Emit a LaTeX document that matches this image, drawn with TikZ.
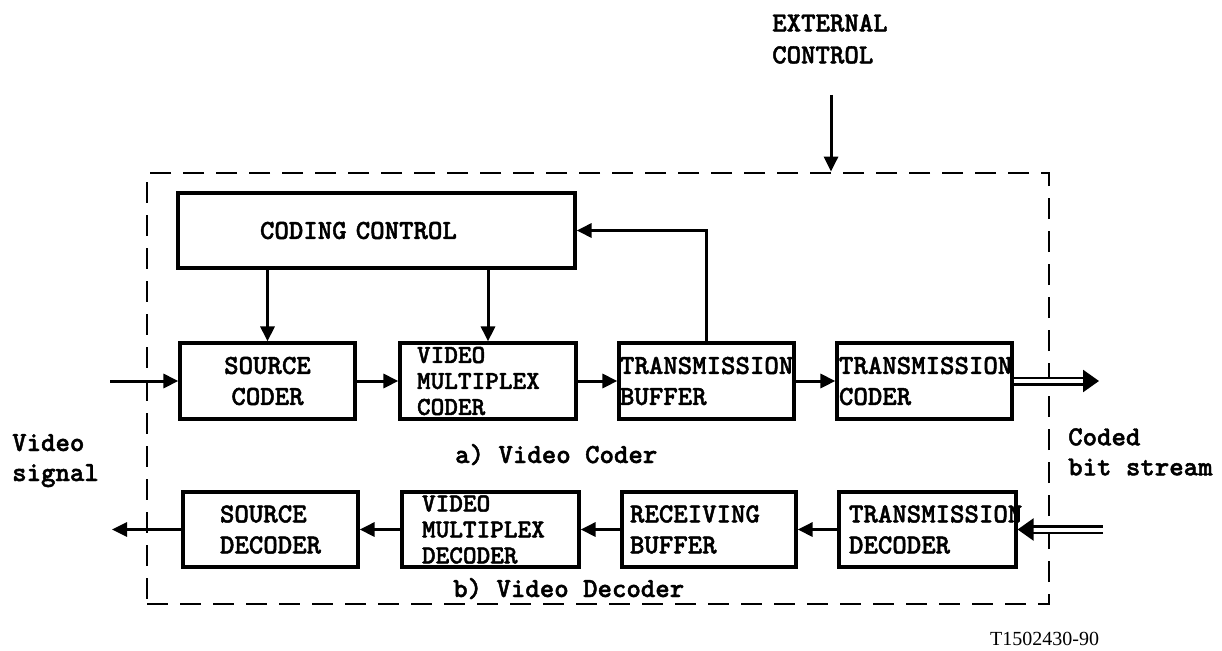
\documentclass[tikz,border=0pt]{standalone}
\usepackage{fontspec}
\setmainfont{Liberation Serif}
\newfontfamily\tyfont[FakeBold=1.6]{lmmonolt10-bold.otf}
\usetikzlibrary{arrows.meta}
\newcommand\boxfnt{\tyfont\fontsize{27.5}{31}\selectfont}
\newcommand\tightfnt{\tyfont\fontsize{26}{26}\selectfont}
\newcommand\lblfnt{\tyfont\fontsize{27.5}{30}\selectfont}
\tikzset{
  blk/.style={draw, line width=3.2pt, inner ysep=0pt, minimum height=76pt, font=\boxfnt},
  tight/.style={font=\tightfnt},
  arr/.style={line width=3pt, -{Triangle[length=15pt,width=14pt]}},
  dbl/.style={double, double distance=4pt, line width=2.5pt, -{Triangle[length=16pt,width=22pt]}},
  frame/.style={draw, line width=2.8pt, dash pattern=on 21pt off 12pt},
  lbl/.style={font=\lblfnt, inner sep=0pt},
}
\begin{document}
\lineskiplimit=-100pt
\begin{tikzpicture}[x=1pt,y=-1pt]
\useasboundingbox (0,0) rectangle (1222,650);
% dashed frame
\node[frame, minimum width=902pt, minimum height=431pt] (fr) at (598,388.5) {};
% coder row
\node[blk, minimum width=397pt, minimum height=75pt, text width=233pt, inner xsep=82pt, align=left] (cc) at (376.5,230.5) {CODING CONTROL};
\node[blk, minimum width=175pt, align=center] (sc) at (267.5,381) {SOURCE\\CODER};
\node[blk, tight, minimum width=176pt, text width=142pt, inner xsep=17pt, align=left] (vmc) at (488,381) {VIDEO\\MULTIPLEX\\CODER};
\node[blk, minimum width=175pt, text width=173pt, inner xsep=1pt, align=left] (tb) at (706.5,381) {TRANSMISSION\\BUFFER};
\node[blk, minimum width=175pt, text width=171pt, inner xsep=2pt, align=left] (tc) at (924.5,381) {TRANSMISSION\\CODER};
% decoder row
\node[blk, minimum width=175pt, minimum height=75pt, text width=101pt, inner xsep=37pt, align=left] (sd) at (270.5,529.5) {SOURCE\\DECODER};
\node[blk, tight, minimum width=177pt, minimum height=75pt, text width=137pt, inner xsep=20pt, align=left] (vmd) at (490.5,529.5) {VIDEO\\MULTIPLEX\\DECODER};
\node[blk, minimum width=174pt, minimum height=75pt, text width=158pt, inner xsep=8pt, align=left] (rb) at (709,529.5) {RECEIVING\\BUFFER};
\node[blk, minimum width=177pt, minimum height=75pt, text width=157pt, inner xsep=10pt, align=left] (td) at (927.5,529.5) {TRANSMISSION\\DECODER};
% free ends
\coordinate (vin) at (110,381);
\coordinate (bout) at (1099,381);
\coordinate (bin) at (1103,529.5);
\coordinate (vout) at (112,529.5);
\coordinate (ext) at (831,95);
% connectors
\draw[arr] (vin) -- (sc.west);
\draw[arr] (sc.east) -- (vmc.west);
\draw[arr] (vmc.east) -- (tb.west);
\draw[arr] (tb.east) -- (tc.west);
\draw[dbl] (tc.east) -- (bout);
\draw[arr] (cc.south -| sc.north) -- (sc.north);
\draw[arr] (cc.south -| vmc.north) -- (vmc.north);
\draw[arr] (tb.north) |- (cc.east);
\draw[arr] (ext) -- (ext |- fr.north);
\draw[dbl] (bin) -- (td.east);
\draw[arr] (td.west) -- (rb.east);
\draw[arr] (rb.west) -- (vmd.east);
\draw[arr] (vmd.west) -- (sd.east);
\draw[arr] (sd.west) -- (vout);
% labels
\node[lbl, align=left, anchor=north west] (extl) at (772,14) {EXTERNAL\\[2pt]CONTROL};
\node[lbl, align=left, anchor=north west] (vsig) at (12,434) {Video\\signal};
\node[lbl, align=left, anchor=north west] (cbs) at (1068,428) {Coded\\bit stream};
\node[lbl, anchor=base west] (la) at (455,463) {a) Video Coder};
\node[lbl, anchor=base west] (lb) at (453,597) {b) Video Decoder};
\node[font=\fontsize{20}{24}\selectfont, inner sep=0pt, anchor=base west] (id) at (990,645) {T1502430-90};
\end{tikzpicture}
\end{document}
